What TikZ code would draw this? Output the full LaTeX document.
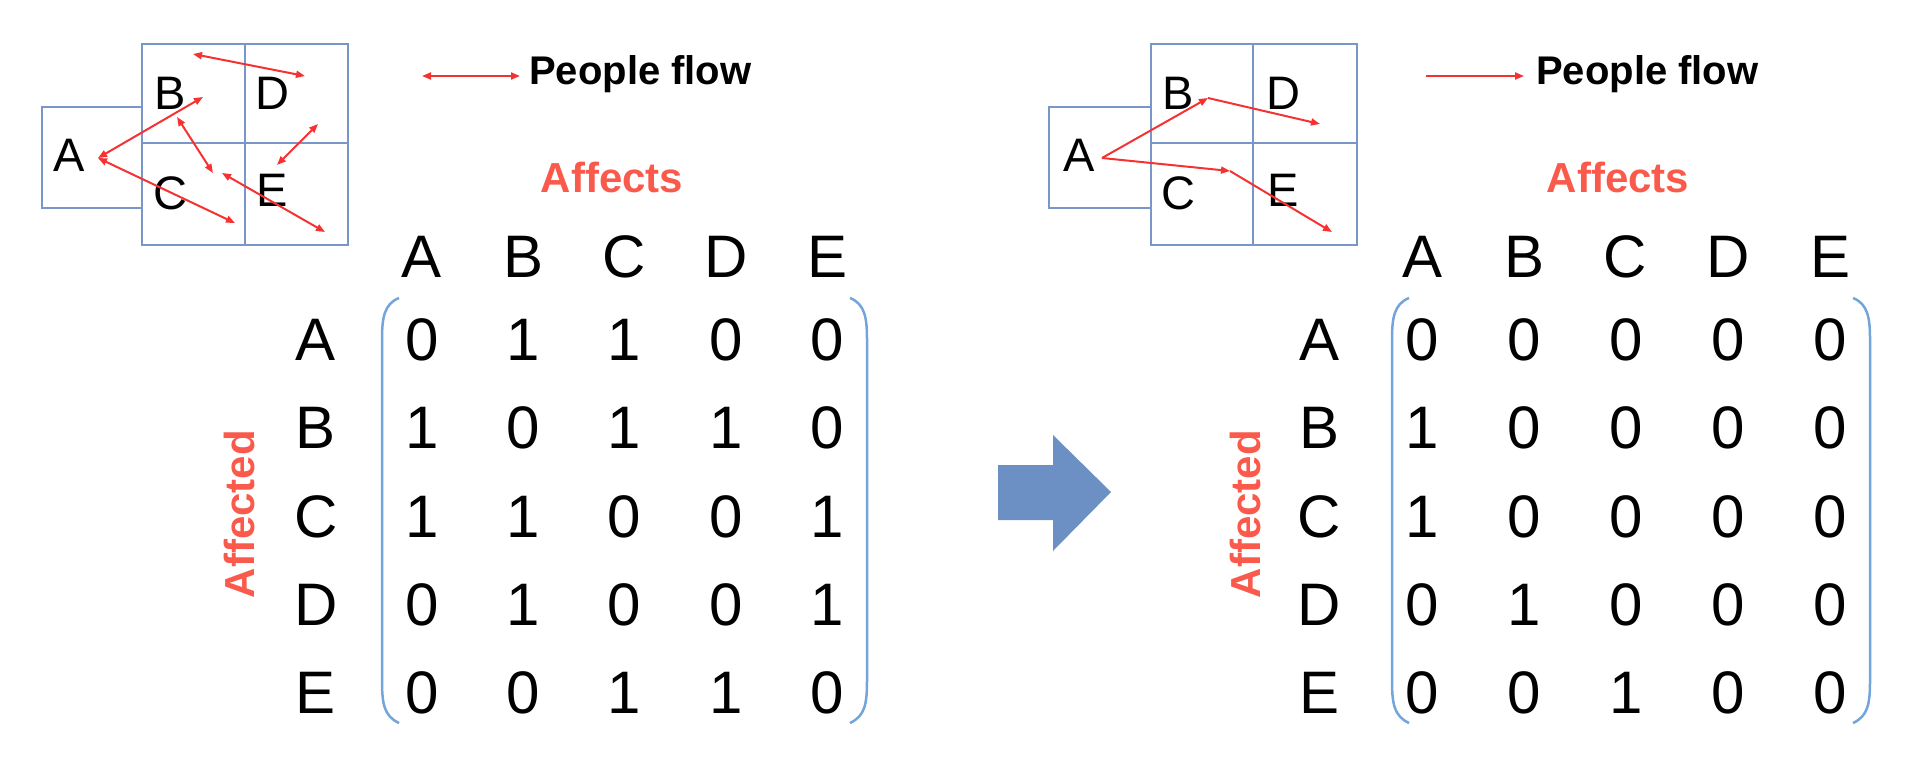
\documentclass[tikz,border=0pt]{standalone}
\usepackage{fontspec}
\setmainfont{Liberation Sans}
\usetikzlibrary{arrows.meta}
\definecolor{flow}{RGB}{245,50,50}
\definecolor{lab}{RGB}{250,90,75}
\definecolor{grid}{RGB}{120,150,200}
\definecolor{brk}{RGB}{115,165,220}
\definecolor{big}{RGB}{108,144,196}
\begin{document}
\begin{tikzpicture}[x=1pt,y=-1pt,
  flowl/.style={draw=flow,line width=2pt,-{Triangle[length=9pt,width=7pt]}},
  flowb/.style={draw=flow,line width=2pt,{Triangle[length=9pt,width=7pt]}-{Triangle[length=9pt,width=7pt]}},
  box/.style={draw=grid,line width=2.5pt},
  ml/.style={font=\fontsize{47}{47}\selectfont,inner sep=0pt},
  mat/.style={font=\fontsize{60}{60}\selectfont,inner sep=0pt},
  title/.style={font=\fontsize{40}{40}\selectfont\bfseries,inner sep=0pt},
  red/.style={font=\fontsize{42}{42}\selectfont\bfseries,text=lab,inner sep=0pt},
  bracket/.style={draw=brk,line width=2.5pt}]
\useasboundingbox (0,0) rectangle (1919,768);
% ---------- left map ----------
\draw[box] (42,107) rectangle (142,208);
\draw[box] (142,44) rectangle (348,245);
\draw[box] (245,44) -- (245,245);
\draw[box] (142,143) -- (348,143);
\node[ml] (la) at (69,155) {A};
\node[ml] (lb) at (170,93) {B};
\node[ml] (ld) at (272,93) {D};
\node[ml] (lc) at (170,193) {C};
\node[ml] (le) at (272,190) {E};
\coordinate (p1) at (193,54); \coordinate (p2) at (305,76);
\coordinate (pa) at (98,158); \coordinate (p3) at (203,97);
\coordinate (p4) at (177,117); \coordinate (p5) at (213,173);
\coordinate (p6) at (222,173); \coordinate (p7) at (325,232);
\coordinate (p8) at (235,223);
\coordinate (p9) at (318,124); \coordinate (p10) at (277,165);
\draw[flowb] (p1) -- (p2);
\draw[flowb] (pa) -- (p3);
\draw[flowb] (p4) -- (p5);
\draw[flowb] (p6) -- (p7);
\draw[flowb] (pa) -- (p8);
\draw[flowb] (p9) -- (p10);
% legend left
\coordinate (lg1) at (422,76); \coordinate (lg2) at (520,76);
\draw[flowb] (lg1) -- (lg2);
\node[title,anchor=west] (pf1) at (529,74) {People flow};
% ---------- right map ----------
\draw[box] (1049,107) rectangle (1151,208);
\draw[box] (1151,44) rectangle (1357,245);
\draw[box] (1253,44) -- (1253,245);
\draw[box] (1151,143) -- (1357,143);
\node[ml] (ra) at (1079,155) {A};
\node[ml] (rb) at (1178,93) {B};
\node[ml] (rd) at (1283,93) {D};
\node[ml] (rc) at (1178,193) {C};
\node[ml] (re) at (1283,190) {E};
\coordinate (q0) at (1102,158); \coordinate (q1) at (1208,98);
\coordinate (q2) at (1320,124); \coordinate (q3) at (1230,171);
\coordinate (q4) at (1332,232);
\draw[flowl] (q0) -- (q1);
\draw[flowl] (q1) -- (q2);
\draw[flowl] (q0) -- (q3);
\draw[flowl] (q3) -- (q4);
\coordinate (rg1) at (1426,76); \coordinate (rg2) at (1524,76);
\draw[flowl] (rg1) -- (rg2);
\node[title,anchor=west] (pf2) at (1536,74) {People flow};
% ---------- matrices ----------
\node[red] (affL) at (612,177) {Affects};
\node[red] (affR) at (1618,177) {Affects};
\node[red,rotate=90] (affdL) at (239,514) {Affected};
\node[red,rotate=90] (affdR) at (1245,514) {Affected};
% headers
\foreach \x/\c in {422/A,524/B,624/C,726/D,827/E}{\node[mat] (hl\c) at (\x,257) {\c};}
\foreach \x/\c in {1422/A,1524/B,1625/C,1728/D,1830/E}{\node[mat] (hr\c) at (\x,257) {\c};}
\foreach \y/\c in {340/A,428/B,517/C,605/D,693/E}{
  \node[mat] (rl\c) at (316,\y) {\c};
  \node[mat] (rr\c) at (1319,\y) {\c};
}
% left values
\foreach \y/\vals in {340/{0,1,1,0,0},428/{1,0,1,1,0},517/{1,1,0,0,1},605/{0,1,0,0,1},693/{0,0,1,1,0}}{
  \foreach \v [count=\i] in \vals {
    \pgfmathsetmacro\xx{422+101.25*(\i-1)}
    \node[mat] at (\xx,\y) {\v};
  }
}
\foreach \y/\vals in {340/{0,0,0,0,0},428/{1,0,0,0,0},517/{1,0,0,0,0},605/{0,1,0,0,0},693/{0,0,1,0,0}}{
  \foreach \v [count=\i] in \vals {
    \pgfmathsetmacro\xx{1422+102*(\i-1)}
    \node[mat] at (\xx,\y) {\v};
  }
}
% brackets
\draw[bracket] (399,298) .. controls (384,304) and (382,318) .. (382,340) -- (382,680) .. controls (382,704) and (384,716) .. (399,723);
\draw[bracket] (850,298) .. controls (865,304) and (867,318) .. (867,340) -- (867,680) .. controls (867,704) and (865,716) .. (850,723);
\draw[bracket] (1409,298) .. controls (1394,304) and (1392,318) .. (1392,340) -- (1392,680) .. controls (1392,704) and (1394,716) .. (1409,723);
\draw[bracket] (1853,298) .. controls (1868,304) and (1870,318) .. (1870,340) -- (1870,680) .. controls (1870,704) and (1868,716) .. (1853,723);
% big arrow
\fill[big] (998,465) -- (1053,465) -- (1053,435) -- (1111,492) -- (1053,551) -- (1053,520) -- (998,520) -- cycle;
\end{tikzpicture}
\end{document}
